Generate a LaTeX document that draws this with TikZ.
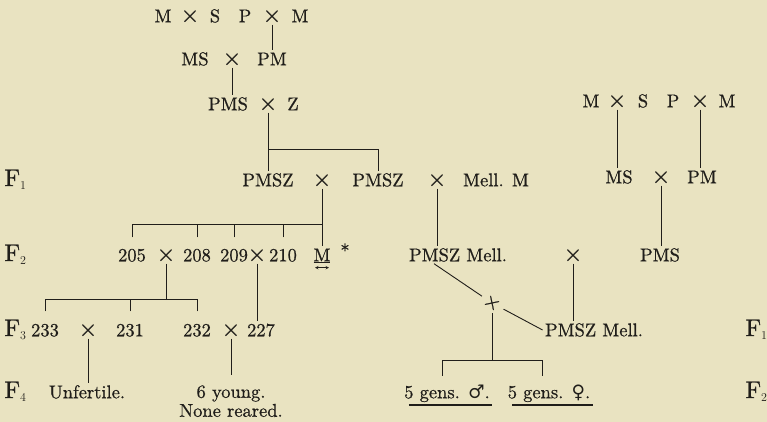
\documentclass[tikz,border=0pt]{standalone}
\usepackage{fontspec}
\usepackage{xcolor}
\usepackage{tikz}
\usetikzlibrary{positioning, calc, arrows}
\newfontfamily\sexfont{DejaVu Serif}
\newfontfamily\heavy{lmroman10-regular}[Extension=.otf, FakeBold=0.7]
\newcommand{\fz}{\heavy\fontsize{18.5}{19}\selectfont}
\definecolor{paper}{RGB}{233,227,193}
\definecolor{ink}{RGB}{32,30,26}

\begin{document}
\begin{tikzpicture}[x=1pt, y=-1pt, line width=0.9pt, color=ink]
		\tikzstyle{kind}=[inner sep=2pt, text height=12.5pt, text depth=0pt, font=\fz]
		\tikzstyle{crossm}=[inner sep=2pt, text height=12.5pt, text depth=0pt, font=\heavy\fontsize{24}{24}\selectfont]
		\tikzstyle{genl}=[inner sep=0pt, anchor=base west, font=\heavy\fontsize{24}{24}\selectfont]
		\fill[paper] (0,0) rectangle (767,422);
		\useasboundingbox (0,0) rectangle (767,422);
		%%
		%% left tree
		\node (la1) at (163,16) [kind] {M};
		\node (lx1) at (190,16) [crossm] {×};
		\node (la2) at (215,16) [kind] {S};
		\node (la3) at (245,16) [kind] {P};
		\node (lx2) at (272,16) [crossm] {×};
		\node (la4) at (300,16) [kind] {M};
		
		\node (lb1) at (195,59) [kind] {MS};
		\node (lx3) at (232,59) [crossm] {×};
		\node (lb2) at (272,59) [kind] {PM};
		
		\node (lc1) at (228,104) [kind] {PMS};
		\node (lx4) at (268,104) [crossm] {×};
		\node (lc2) at (293,104) [kind] {Z};
		
		\draw (lx2) -- (lx2 |- lb2.north);
		\draw (lx3) -- (lx3 |- lc1.north);
		
		%% F1
		\node (f1) at (4,186) [genl] {F$_{\scriptscriptstyle 1}$};
		\node (d1) at (268,180) [kind] {PMSZ};
		\node (dx1) at (322,180) [crossm] {×};
		\node (d2) at (378,180) [kind] {PMSZ};
		\node (dx2) at (437,180) [crossm] {×};
		\node (d3) at (496,180) [kind] {Mell. M};
		
		\coordinate (b1) at (268,149);
		\draw (lx4) -- (lx4 |- d1.north);
		\draw (b1) -| (d2);
		
		%% F2
		\node (f2) at (4,261) [genl] {F$_{\scriptscriptstyle 2}$};
		\node (e205) at (132,255) [kind] {205};
		\node (ex1) at (166,255) [crossm] {×};
		\node (e208) at (197,255) [kind] {208};
		\node (e209) at (234,255) [kind] {209};
		\node (ex2) at (257,255) [crossm] {×};
		\node (e210) at (283,255) [kind] {210};
		\node (em) at (322,255) [kind] {\underline{M}};
		\node (est) at (345,251) [kind] {*};
		
		\coordinate (b2) at (322,224);
		\draw (dx1) -- (em);
		\draw (e205 |- b2) -- (b2);
		\foreach \n in {e205,e208,e209,e210}
			\draw[shorten <=9pt] (\n) -- (\n |- b2);
		\draw[<->, >=stealth, line width=0.5pt] ([xshift=4pt,yshift=-4pt]em.south west) -- ([xshift=-4pt,yshift=-4pt]em.south east);
		
		%% F3
		\node (f3) at (4,336) [genl] {F$_{\scriptscriptstyle 3}$};
		\node (g233) at (45,330) [kind] {233};
		\node (gx1) at (88,330) [crossm] {×};
		\node (g231) at (130,330) [kind] {231};
		\node (g232) at (197,330) [kind] {232};
		\node (gx2) at (231,330) [crossm] {×};
		\node (g227) at (261,330) [kind] {227};
		
		\coordinate (b3) at (166,299);
		\draw (ex1) -- (b3);
		\draw (g233 |- b3) -- (g232 |- b3);
		\foreach \n in {g233,g231,g232}
			\draw[shorten <=10pt] (\n) -- (\n |- b3);
		\draw (ex2) -- (ex2 |- g227.north);
		
		%% F4
		\node (f4) at (4,398) [genl] {F$_{\scriptscriptstyle 4}$};
		\node (h1) at (87,392) [kind] {Unfertile.};
		\node (h2) at (231,384) [anchor=north, align=center, inner sep=1pt, font=\fz] {6 young.\\None reared.};
		\draw (gx1) -- (gx1 |- h1.north);
		\draw[shorten >=9pt] (gx2) -- (gx2 |- h2.north);
		
		%% middle cross
		\node (m1) at (458,255) [kind] {PMSZ Mell.};
		\node (mx1) at (573,255) [crossm] {×};
		\node (m2) at (594,330) [kind] {PMSZ Mell.};
		\node (mc) at (492,303) [inner sep=1pt, font=\heavy\fontsize{22}{22}\selectfont, rotate=12] {+};
		
		\draw (dx2) -- (dx2 |- m1.north);
		\draw (mx1) -- (mx1 |- m2.north);
		\draw ([xshift=-24pt]m1.south) -- (mc);
		\draw (mc) -- (m2.west);
		
		\node (k1) at (447,392) [kind] {5 gens. {\sexfont ♂}.};
		\node (k2) at (549,392) [kind] {5 gens. {\sexfont ♀}.};
		\coordinate (b4) at (492,360);
		\coordinate (t1) at (442,360);
		\coordinate (t2) at (542,360);
		\draw[shorten <=10pt] (mc.center) -- (b4);
		\draw (t1) -- (t2);
		\draw[shorten >=7pt] (t1) -- (t1 |- k1.north);
		\draw[shorten >=7pt] (t2) -- (t2 |- k2.north);
		\draw[line width=1.8pt] ([xshift=7pt,yshift=-4pt]k1.south west) -- ([yshift=-4pt]k1.south east);
		\draw[line width=1.8pt] ([xshift=7pt,yshift=-4pt]k2.south west) -- ([yshift=-4pt]k2.south east);
		
		%% right tree
		\node (ra1) at (591,101) [kind] {M};
		\node (rx1) at (617,101) [crossm] {×};
		\node (ra2) at (643,101) [kind] {S};
		\node (ra3) at (673,101) [kind] {P};
		\node (rx2) at (700,101) [crossm] {×};
		\node (ra4) at (727,101) [kind] {M};
		
		\node (rb1) at (619,177) [kind] {MS};
		\node (rx3) at (661,177) [crossm] {×};
		\node (rb2) at (702,177) [kind] {PM};
		\node (rc1) at (660,255) [kind] {PMS};
		
		\draw (rx1) -- (rx1 |- rb1.north);
		\draw (rx2) -- (rx2 |- rb2.north);
		\draw (rx3) -- (rx3 |- rc1.north);
		
		\node (rf1) at (745,336) [genl] {F$_{\scriptscriptstyle 1}$};
		\node (rf2) at (745,398) [genl] {F$_{\scriptscriptstyle 2}$};
\end{tikzpicture}
\end{document}
